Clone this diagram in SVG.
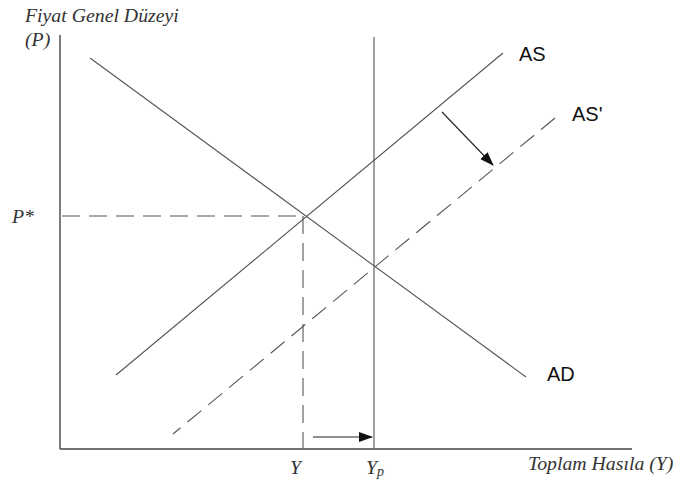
<svg xmlns="http://www.w3.org/2000/svg" width="676" height="484" viewBox="0 0 676 484">
<style>
.ln{stroke:#555;stroke-width:1.1;fill:none}
.ax{stroke:#444;stroke-width:1.4;fill:none}
.ds{stroke:#555;stroke-width:1.1;fill:none;stroke-dasharray:18 9}
.ar{stroke:#222;stroke-width:1.1;fill:none}
.it{font-family:"Liberation Serif",serif;font-style:italic;font-size:19.8px;fill:#333}
.sn{font-family:"Liberation Sans",Arial,sans-serif;font-size:20px;fill:#111}
</style>
<defs>
<marker id="ah" markerWidth="14" markerHeight="10" refX="13" refY="5" orient="auto" markerUnits="userSpaceOnUse">
<path d="M0,0 L14,5 L0,10 Z" fill="#111"/>
</marker>
</defs>
<rect width="676" height="484" fill="#fff"/>
<g id="axes">
<line class="ax" x1="60" y1="35" x2="60" y2="449"/>
<line class="ax" x1="60" y1="449" x2="632" y2="449"/>
</g>
<g id="connectors">
<line id="AD" class="ln" x1="90" y1="58" x2="526" y2="377"/>
<line id="AS" class="ln" x1="116" y1="375" x2="503" y2="53"/>
<line id="ASp" class="ds" x1="555" y1="118" x2="173" y2="434"/>
<line id="Yp" class="ln" x1="374" y1="37" x2="374" y2="448"/>
<line id="Pstar" class="ds" x1="62" y1="216" x2="305" y2="216"/>
<line id="Ydash" class="ds" x1="303" y1="216" x2="303" y2="448"/>
<line class="ar" x1="313" y1="437" x2="372" y2="437" marker-end="url(#ah)"/>
<line class="ar" x1="442" y1="112" x2="493" y2="165" marker-end="url(#ah)"/>
</g>
<g id="labels">
<text class="it" x="25" y="22">Fiyat Genel Düzeyi</text>
<text class="it" x="25" y="46">(P)</text>
<text class="it" x="12" y="223">P*</text>
<text class="it" x="290" y="474">Y</text>
<text class="it" x="366" y="474">Y<tspan font-size="14" dy="2">p</tspan></text>
<text class="it" x="528" y="470">Toplam Hasıla (Y)</text>
<text class="sn" x="519" y="61">AS</text>
<text class="sn" x="572" y="121">AS'</text>
<text class="sn" x="547" y="381">AD</text>
</g>
</svg>
